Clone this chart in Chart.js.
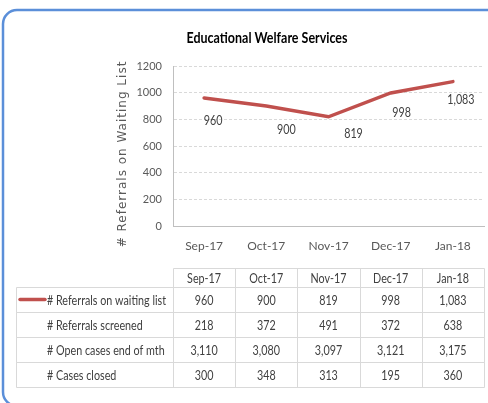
<!DOCTYPE html>
<html>
<head>
<meta charset="utf-8">
<title>Educational Welfare Services</title>
<script src="https://cdn.jsdelivr.net/npm/chart.js@4.4.1/dist/chart.umd.min.js"></script>
<style>
    html, body { margin: 0; padding: 0; background: #ffffff; }
    #wrap { width: 488px; height: 403px; position: relative; }
</style>
</head>
<body>
<div id="wrap"><canvas id="ewsChart" width="488" height="403"></canvas></div>
<script>
const months = ['Sep-17', 'Oct-17', 'Nov-17', 'Dec-17', 'Jan-18'];
const waitingList = [960, 900, 819, 998, 1083];
const screened = [218, 372, 491, 372, 638];
const openCases = [3110, 3080, 3097, 3121, 3175];
const casesClosed = [300, 348, 313, 195, 360];
const yTicks = [0, 200, 400, 600, 800, 1000, 1200];

const tableRows = [
    { label: '# Referrals on waiting list', values: waitingList, legend: true },
    { label: '# Referrals screened', values: screened },
    { label: '# Open cases end of mth', values: openCases },
    { label: '# Cases closed', values: casesClosed }
];

const lineColor = '#c0504d';
const textColor = '#404040';
const axisColor = '#595959';
const bodyFont = 'Lato, "Open Sans", sans-serif';

// small nudges for the data labels (Excel had them dragged a bit)
const labelNudge = [[9, 22], [20, 23], [25, 17], [11, 20], [8, 18]];

function fmt(n) {
    return n.toLocaleString('en-US');
}

// the original is a squashed screenshot of Calibri, so squeeze Lato to match
let squeeze = 1;
let titleSqueeze = 1;

function squeezedText(ctx, text, x, y, sx) {
    ctx.save();
    ctx.translate(x, y);
    ctx.scale(sx, 1);
    ctx.fillText(text, 0, 0);
    ctx.restore();
}

// frame, title, axis title, data labels and the data table under the plot
const extrasPlugin = {
    id: 'extras',
    beforeDraw(chart) {
        const ctx = chart.ctx;
        ctx.save();
        ctx.fillStyle = '#ffffff';
        ctx.fillRect(0, 0, chart.width, chart.height);
        ctx.font = '14px ' + bodyFont;
        squeeze = 119 / ctx.measureText('# Referrals on waiting list').width;
        ctx.font = 'bold 16px ' + bodyFont;
        titleSqueeze = 161 / ctx.measureText('Educational Welfare Services').width;
        ctx.restore();
    },
    afterDraw(chart) {
        const ctx = chart.ctx;
        const area = chart.chartArea;
        const meta = chart.getDatasetMeta(0);

        ctx.save();

        // rounded blue frame
        ctx.strokeStyle = '#5b8fd9';
        ctx.lineWidth = 2.5;
        ctx.beginPath();
        ctx.roundRect(3, 10, 500, 396, 14);
        ctx.stroke();

        // title
        ctx.fillStyle = '#000000';
        ctx.font = 'bold 16px ' + bodyFont;
        ctx.textAlign = 'center';
        ctx.textBaseline = 'middle';
        squeezedText(ctx, 'Educational Welfare Services', 267, 38, titleSqueeze);

        // y axis title, spaced out like the original
        ctx.save();
        ctx.fillStyle = axisColor;
        ctx.font = '12px "DejaVu Sans"';
        ctx.letterSpacing = '1px';
        ctx.translate(123, (area.top + area.bottom) / 2 + 8);
        ctx.rotate(-Math.PI / 2);
        ctx.fillText('# Referrals on Waiting List', 0, 0);
        ctx.restore();

        // data labels
        ctx.fillStyle = textColor;
        ctx.font = '14px ' + bodyFont;
        meta.data.forEach((pt, i) => {
            squeezedText(ctx, fmt(waitingList[i]), pt.x + labelNudge[i][0], pt.y + labelNudge[i][1], squeeze);
        });

        // data table
        const colW = (area.right - area.left) / months.length;
        const tableLeft = 16;
        const headTop = area.bottom + 42;
        const headH = 19;
        const rowH = 25;
        ctx.strokeStyle = '#d9d9d9';
        ctx.lineWidth = 1;

        // header row
        ctx.beginPath();
        ctx.rect(area.left + 0.5, headTop + 0.5, area.right - area.left, headH);
        for (let i = 1; i < months.length; i++) {
            const x = Math.round(area.left + i * colW) + 0.5;
            ctx.moveTo(x, headTop);
            ctx.lineTo(x, headTop + headH);
        }
        ctx.stroke();
        months.forEach((m, i) => {
            squeezedText(ctx, m, area.left + (i + 0.5) * colW, headTop + headH / 2 + 1, squeeze);
        });

        // body rows
        const bodyTop = headTop + headH;
        tableRows.forEach((row, r) => {
            const y = bodyTop + r * rowH;
            ctx.beginPath();
            ctx.rect(tableLeft + 0.5, y + 0.5, area.right - tableLeft, rowH);
            for (let i = 0; i < months.length; i++) {
                const x = Math.round(area.left + i * colW) + 0.5;
                ctx.moveTo(x, y);
                ctx.lineTo(x, y + rowH);
            }
            ctx.stroke();

            ctx.textAlign = 'left';
            squeezedText(ctx, row.label, 47, y + rowH / 2 + 1, squeeze);
            ctx.textAlign = 'center';
            row.values.forEach((v, i) => {
                squeezedText(ctx, fmt(v), area.left + (i + 0.5) * colW, y + rowH / 2 + 1, squeeze);
            });

            if (row.legend) {
                ctx.save();
                ctx.strokeStyle = lineColor;
                ctx.lineWidth = 3.5;
                ctx.lineCap = 'round';
                ctx.beginPath();
                ctx.moveTo(20, y + rowH / 2);
                ctx.lineTo(45, y + rowH / 2);
                ctx.stroke();
                ctx.restore();
            }
        });

        ctx.restore();
    }
};

new Chart(document.getElementById('ewsChart'), {
    type: 'line',
    data: {
        labels: months,
        datasets: [{
            label: '# Referrals on waiting list',
            data: waitingList,
            borderColor: lineColor,
            borderWidth: 3.5,
            borderCapStyle: 'round',
            pointRadius: 0,
            tension: 0,
            fill: false
        }]
    },
    options: {
        responsive: false,
        animation: false,
        events: [],
        layout: {
            padding: { left: 112, right: 4, top: 66, bottom: 147 }
        },
        plugins: {
            legend: { display: false },
            tooltip: { enabled: false }
        },
        scales: {
            x: {
                offset: true,
                grid: { display: false, drawTicks: false },
                border: { display: true, color: '#bfbfbf', width: 1 },
                ticks: {
                    color: axisColor,
                    padding: 13,
                    maxRotation: 0,
                    font: { family: bodyFont, size: 12 }
                },
                afterFit(scale) {
                    scale.height = 30;
                }
            },
            y: {
                min: 0,
                max: 1200,
                afterBuildTicks(scale) {
                    scale.ticks = yTicks.map(v => ({ value: v }));
                },
                grid: { color: '#d9d9d9', drawTicks: false },
                border: { display: true, color: '#bfbfbf', width: 1, dash: [3, 2] },
                ticks: {
                    color: axisColor,
                    padding: 11,
                    font: { family: bodyFont, size: 11 },
                    callback: v => String(v)
                },
                afterFit(scale) {
                    scale.width = 61;
                }
            }
        }
    },
    plugins: [extrasPlugin]
});
</script>
</body>
</html>
